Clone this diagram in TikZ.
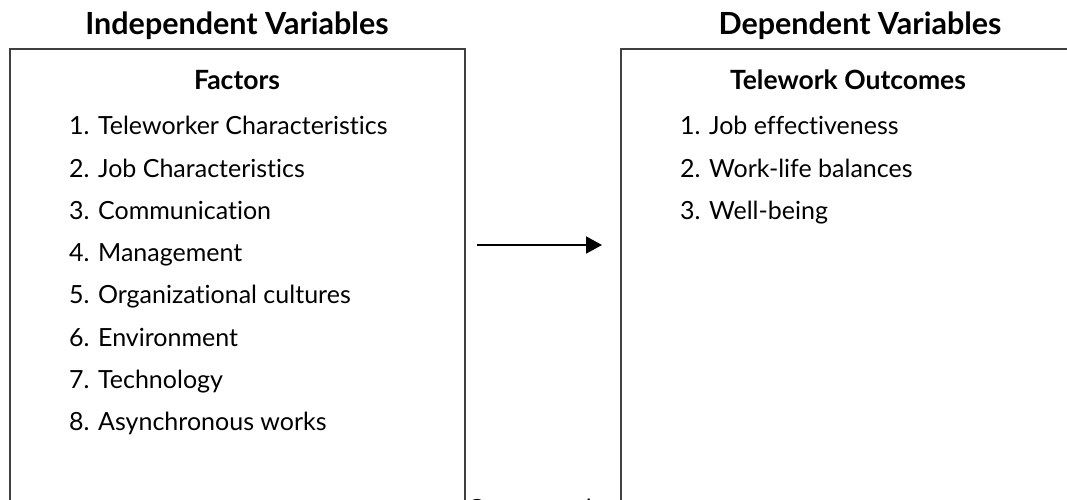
\documentclass[tikz,border=0pt]{standalone}
\usepackage{fontspec}
\setmainfont{Lato}[Ligatures=NoCommon]
\usetikzlibrary{arrows.meta}
\tikzset{
  frame/.style={draw=black!75, line width=1.4pt},
  head/.style={anchor=base, font=\fontsize{30.5}{33}\selectfont\bfseries, inner sep=0pt},
  sub/.style={anchor=base, font=\fontsize{26.5}{29}\selectfont\bfseries, inner sep=0pt},
  item/.style={anchor=base west, font=\fontsize{25}{28}\selectfont, inner sep=0pt},
  link/.style={-{Triangle[length=16pt,width=17pt]}, line width=2pt}
}
\begin{document}
\begin{tikzpicture}[x=1pt,y=-1pt]
\useasboundingbox (0,0) rectangle (1067,500);
\draw[frame] (10,49) rectangle (465,530);
\draw[frame] (621,49) rectangle (1080,530);
\node[head] (iv) at (237,35) {Independent Variables};
\node[head] (dv) at (860,35) {Dependent Variables};
\node[sub] (fac) at (237,90) {Factors};
\node[sub] (tout) at (848,90) {Telework Outcomes};
\node[item] (l1) at (69,135.0) {1. Teleworker Characteristics};
\node[item] (l2) at (69,177.2) {2. Job Characteristics};
\node[item] (l3) at (69,219.4) {3. Communication};
\node[item] (l4) at (69,261.6) {4. Management};
\node[item] (l5) at (69,303.8) {5. Organizational cultures};
\node[item] (l6) at (69,346.0) {6. Environment};
\node[item] (l7) at (69,388.2) {7. Technology};
\node[item] (l8) at (69,430.4) {8. Asynchronous works};
\node[item] (r1) at (680,135.0) {1. Job effectiveness};
\node[item] (r2) at (680,177.2) {2. Work-life balances};
\node[item] (r3) at (680,219.4) {3. Well-being};
\node[item] (cap) at (467,517) {Conceptual};
\coordinate (a1) at (477,245);
\coordinate (a2) at (602,245);
\draw[link] (a1) -- (a2);
\end{tikzpicture}
\end{document}
